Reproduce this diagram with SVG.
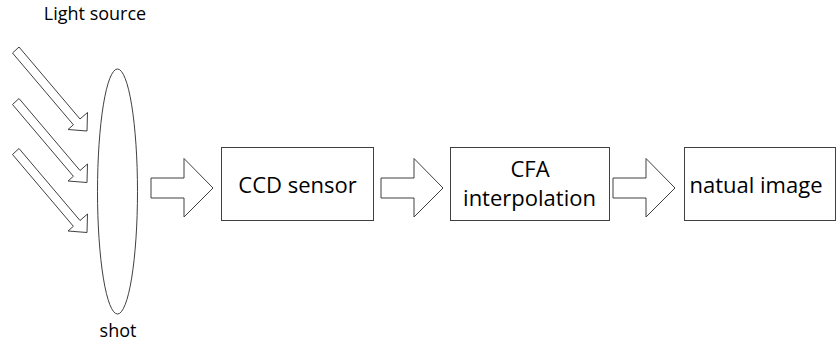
<svg xmlns="http://www.w3.org/2000/svg" width="837" height="352" viewBox="0 0 837 352">
  <style>
    .shape { fill: #ffffff; stroke: #404040; stroke-width: 1; }
    .label { font-family: "Open Sans", "Liberation Sans", sans-serif; fill: #000000; text-anchor: middle; }
    .small { font-size: 18px; }
    .big { font-size: 22px; }
  </style>
  <defs>
    <!-- diagonal hollow arrow pointing down-right -->
    <polygon id="ray" points="12.5,53 19,47 80,119 87.5,112.5 87,131 68,129.5 73.4,124.8"/>
    <!-- horizontal hollow block arrow, origin at shaft left/top -->
    <polygon id="flow" points="0,0 33,0 33,-19.5 62,10 33,39 33,20 0,20"/>
  </defs>
  <rect width="837" height="352" fill="#ffffff"/>

  <g id="light-source">
    <text class="label small" x="95" y="19.5">Light source</text>
  </g>

  <g id="rays">
    <use href="#ray" class="shape"/>
    <use href="#ray" class="shape" y="51.5"/>
    <use href="#ray" class="shape" y="101.5"/>
  </g>

  <g id="lens">
    <ellipse class="shape" cx="117.5" cy="191.5" rx="20" ry="122.5"/>
    <text class="label small" x="118" y="337">shot</text>
  </g>

  <g id="ccd-sensor">
    <rect class="shape" x="221.5" y="147.5" width="152" height="73"/>
    <text class="label big" x="297.5" y="193">CCD sensor</text>
  </g>

  <g id="cfa-interpolation">
    <rect class="shape" x="450.5" y="147.5" width="159" height="73"/>
    <text class="label big" x="530" y="176.5">CFA</text>
    <text class="label big" x="529.5" y="205.5">interpolation</text>
  </g>

  <g id="natual-image">
    <rect class="shape" x="684.5" y="147.5" width="151" height="73"/>
    <text class="label big" x="756" y="193">natual image</text>
  </g>

  <g id="connectors">
    <use href="#flow" class="shape" x="151" y="178"/>
    <use href="#flow" class="shape" x="381" y="178"/>
    <use href="#flow" class="shape" x="613" y="178"/>
  </g>
</svg>
